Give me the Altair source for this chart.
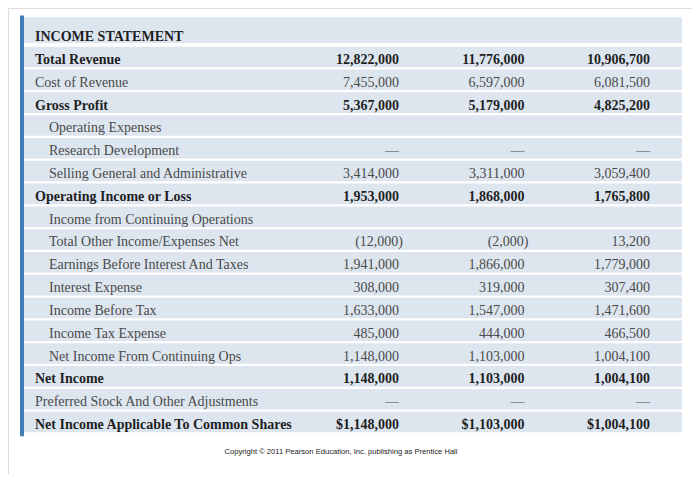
import altair as alt
import pandas as pd

labels = [
    "INCOME STATEMENT",
    "Total Revenue",
    "Cost of Revenue",
    "Gross Profit",
    "Operating Expenses",
    "Research Development",
    "Selling General and Administrative",
    "Operating Income or Loss",
    "Income from Continuing Operations",
    "Total Other Income/Expenses Net",
    "Earnings Before Interest And Taxes",
    "Interest Expense",
    "Income Before Tax",
    "Income Tax Expense",
    "Net Income From Continuing Ops",
    "Net Income",
    "Preferred Stock And Other Adjustments",
    "Net Income Applicable To Common Shares",
]
indent = [0, 0, 0, 0, 1, 1, 1, 0, 1, 1, 1, 1, 1, 1, 1, 0, 0, 0]
bold = [1, 1, 0, 1, 0, 0, 0, 1, 0, 0, 0, 0, 0, 0, 0, 1, 0, 1]

col1 = ["", "12,822,000", "7,455,000", "5,367,000", "", "—", "3,414,000", "1,953,000", "",
        "(12,000)", "1,941,000", "308,000", "1,633,000", "485,000", "1,148,000", "1,148,000", "—", "$1,148,000"]
col2 = ["", "11,776,000", "6,597,000", "5,179,000", "", "—", "3,311,000", "1,868,000", "",
        "(2,000)", "1,866,000", "319,000", "1,547,000", "444,000", "1,103,000", "1,103,000", "—", "$1,103,000"]
col3 = ["", "10,906,700", "6,081,500", "4,825,200", "", "—", "3,059,400", "1,765,800", "",
        "13,200", "1,779,000", "307,400", "1,471,600", "466,500", "1,004,100", "1,004,100", "—", "$1,004,100"]

copyright_text = "Copyright \u00a9 2011 Pearson Education, Inc. publishing as Prentice Hall"

rows = pd.DataFrame({
    "row": list(range(len(labels))),
    "label": labels,
    "indent": indent,
    "bold": bold,
})

vals = []
for c, col in enumerate([col1, col2, col3], start=1):
    for i, v in enumerate(col):
        if v:
            vals.append({"row": i, "col": c, "value": v, "bold": bold[i],
                         "paren": 1 if v.startswith("(") else 0})
vals = pd.DataFrame(vals)

BG = "#dde6ef"
BAR = "#3f7db5"
FONT = "Liberation Serif"
DARK = "#1f1f1f"
GREY = "#4a4a4a"

yscale = alt.Scale(domain=[-1.148, 19.28], reverse=True, nice=False, zero=False)
xscale = alt.Scale(domain=[-2.116, 3.335], nice=False, zero=False)

base = alt.Chart(rows)

row_rects = base.transform_calculate(
    y0="datum.row == 0 ? -0.74 : datum.row - 0.45",
    y1="datum.row == 0 ? 0.386 : datum.row + 0.45",
).mark_rect(color=BG).encode(
    y=alt.Y("y0:Q", scale=yscale, axis=None),
    y2="y1:Q",
    x=alt.value(16),
    x2=alt.value(674),
)

side_bar = base.transform_aggregate(
    lo="min(row)", hi="max(row)"
).transform_calculate(
    y0="datum.lo - 0.82", y1="datum.hi + 0.63"
).mark_rect(color=BAR).encode(
    y=alt.Y("y0:Q", scale=yscale, axis=None),
    y2="y1:Q",
    x=alt.value(12),
    x2=alt.value(16),
)

def label_layer(is_bold, ind, xpx):
    return base.transform_filter(
        f"datum.bold == {is_bold} && datum.indent == {ind}"
    ).mark_text(
        align="left", baseline="middle", font=FONT, fontSize=14,
        fontWeight="bold" if is_bold else "normal",
        color=DARK if is_bold else GREY, dy=3,
    ).encode(
        y=alt.Y("row:Q", scale=yscale, axis=None),
        x=alt.value(xpx),
        text="label:N",
    )

lab_b = label_layer(1, 0, 27)
lab_n0 = label_layer(0, 0, 27)
lab_n1 = label_layer(0, 1, 41)

vbase = alt.Chart(vals)

def value_layer(cond, is_bold, dx):
    return vbase.transform_filter(cond).mark_text(
        align="right", baseline="middle", font=FONT, fontSize=14,
        fontWeight="bold" if is_bold else "normal",
        color=DARK if is_bold else GREY, dy=3, dx=dx,
    ).encode(
        y=alt.Y("row:Q", scale=yscale, axis=None),
        x=alt.X("col:Q", scale=xscale, axis=None),
        text="value:N",
    )

val_b = value_layer("datum.bold == 1", True, 0)
val_n = value_layer("datum.bold == 0 && datum.paren == 0", False, 0)
val_p = value_layer("datum.bold == 0 && datum.paren == 1", False, 4)

copyright = alt.Chart(pd.DataFrame({"t": [copyright_text]})).mark_text(
    align="center", baseline="middle", font="Liberation Sans", fontSize=7.6,
    color="#222222",
).encode(
    x=alt.value(333),
    y=alt.value(444),
    text="t:N",
)

chart = alt.layer(
    row_rects, side_bar, lab_b, lab_n0, lab_n1, val_b, val_n, val_p, copyright
).properties(
    width=684, height=466, padding=0,
    autosize=alt.AutoSizeParams(type="none"),
).configure_view(stroke=None).configure(background="white")

chart.save("out.html", embed_options={"renderer": "svg", "actions": False})
